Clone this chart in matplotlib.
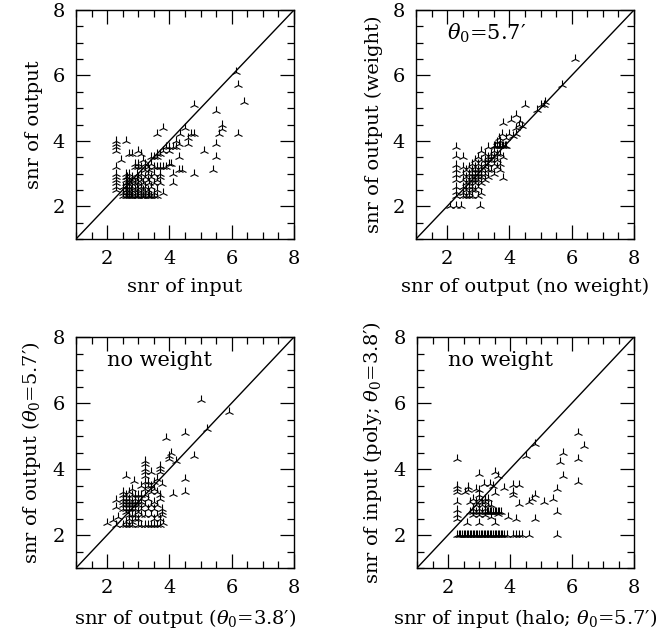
import matplotlib
matplotlib.use("Agg")
import matplotlib.pyplot as plt
from matplotlib.ticker import MultipleLocator

plt.rcParams['font.family'] = ['DejaVu Serif']
plt.rcParams['mathtext.fontset'] = 'dejavuserif'

# panel 1: snr of input vs snr of output
p1_points = [
    (2.3, 2.5), (2.3, 2.6), (2.3, 2.7), (2.3, 2.8), (2.3, 2.9), (2.3, 3.0), (2.3, 3.2),
    (2.3, 3.7), (2.3, 3.8), (2.3, 3.9), (2.3, 4.0), (2.45, 3.4),
    (2.5, 2.3), (2.5, 2.4), (2.5, 2.6),
    (2.6, 2.3), (2.6, 2.4), (2.6, 2.5), (2.6, 2.6), (2.6, 2.7), (2.6, 2.8), (2.6, 2.9), (2.6, 3.0), (2.6, 4.0),
    (2.65, 2.3), (2.65, 2.5), (2.65, 2.7), (2.65, 2.9),
    (2.7, 2.3), (2.7, 2.4), (2.7, 2.6), (2.7, 2.8), (2.7, 3.0), (2.7, 3.6),
    (2.75, 2.3), (2.75, 2.5), (2.75, 2.7),
    (2.8, 2.3), (2.8, 2.4), (2.8, 2.6), (2.8, 2.8), (2.8, 2.9), (2.8, 3.6),
    (2.9, 2.3), (2.9, 2.5), (2.9, 2.7), (2.9, 3.2), (2.9, 3.3),
    (2.95, 2.3), (2.95, 2.4), (2.95, 2.6), (2.95, 2.8), (2.95, 3.0),
    (3.0, 2.3), (3.0, 2.5), (3.0, 2.7), (3.0, 2.9), (3.0, 3.2), (3.0, 3.3), (3.0, 3.7),
    (3.1, 2.3), (3.1, 2.4), (3.1, 2.6), (3.1, 2.8), (3.1, 3.0), (3.1, 3.2), (3.1, 3.6),
    (3.15, 2.3), (3.15, 2.5), (3.15, 2.7), (3.15, 3.4),
    (3.2, 2.3), (3.2, 2.4), (3.2, 2.6), (3.2, 2.9), (3.2, 3.1), (3.2, 3.3),
    (3.3, 2.3), (3.3, 2.5), (3.3, 2.8), (3.3, 3.0), (3.3, 3.2),
    (3.35, 2.3), (3.35, 2.4), (3.35, 2.7), (3.35, 3.1),
    (3.4, 2.3), (3.4, 2.6), (3.4, 2.9), (3.4, 3.3), (3.4, 3.5),
    (3.5, 2.3), (3.5, 2.4), (3.5, 2.7), (3.5, 3.0), (3.5, 3.2), (3.5, 3.5),
    (3.6, 2.3), (3.6, 2.5), (3.6, 2.8), (3.6, 3.2), (3.6, 3.5), (3.6, 3.6), (3.6, 4.2),
    (3.7, 2.7), (3.7, 2.9), (3.7, 3.0), (3.7, 3.2), (3.7, 3.6),
    (3.8, 2.4), (3.8, 3.2), (3.8, 3.7), (3.8, 4.4),
    (3.9, 3.2), (3.9, 3.8), (4.0, 3.3), (4.0, 3.7), (4.0, 3.8),
    (4.1, 2.7), (4.05, 3.3), (4.1, 3.0), (4.1, 3.8), (4.2, 3.8), (4.2, 4.0),
    (4.3, 3.1), (4.3, 3.5), (4.3, 3.9), (4.4, 3.1), (4.35, 4.2), (4.5, 4.4),
    (4.6, 4.1), (4.6, 3.9), (4.7, 4.2), (4.8, 4.2), (4.8, 3.0), (4.8, 5.1),
    (5.1, 3.7), (5.4, 3.1), (5.5, 3.5), (5.5, 3.9), (5.5, 4.9),
    (5.6, 4.2), (5.7, 4.35), (5.7, 4.5), (6.2, 4.2), (6.4, 5.2), (6.2, 5.7), (6.15, 6.1),
]

# panel 2: output (no weight) vs output (weight)
p2_points = [
    (2.1, 2.0), (2.3, 2.0), (2.45, 2.0), (3.05, 2.0),
    (2.3, 2.3), (2.3, 2.45), (2.3, 2.6), (2.3, 2.8), (2.3, 2.95), (2.3, 3.1), (2.3, 3.25),
    (2.3, 3.55), (2.3, 3.8),
    (2.5, 2.3), (2.5, 2.4), (2.5, 2.6), (2.5, 2.8), (2.5, 3.0), (2.5, 3.2), (2.5, 3.5),
    (2.6, 2.3), (2.6, 2.5), (2.6, 2.7), (2.6, 2.9), (2.6, 3.1),
    (2.7, 2.3), (2.7, 2.4), (2.7, 2.6), (2.7, 2.7), (2.7, 2.8), (2.7, 3.0), (2.7, 3.2),
    (2.8, 2.3), (2.8, 2.5), (2.8, 2.6), (2.8, 2.8), (2.8, 2.9), (2.8, 3.0), (2.8, 3.1), (2.8, 3.3),
    (2.9, 2.5), (2.9, 2.7), (2.9, 2.8), (2.9, 3.0), (2.9, 3.1), (2.9, 3.2), (2.9, 3.4),
    (3.0, 2.3), (3.0, 2.6), (3.0, 2.8), (3.0, 2.9), (3.0, 3.0), (3.0, 3.1), (3.0, 3.3), (3.0, 3.5),
    (3.1, 2.4), (3.1, 2.7), (3.1, 2.9), (3.1, 3.0), (3.1, 3.1), (3.1, 3.2), (3.1, 3.4), (3.1, 3.7),
    (3.2, 2.8), (3.2, 3.0), (3.2, 3.2), (3.2, 3.3), (3.2, 3.4), (3.2, 3.6),
    (3.3, 2.9), (3.3, 3.1), (3.3, 3.3), (3.3, 3.4), (3.3, 3.5), (3.3, 3.8),
    (3.4, 3.1), (3.4, 3.4), (3.4, 3.5), (3.4, 3.6),
    (3.5, 3.0), (3.5, 3.3), (3.5, 3.5), (3.5, 3.7), (3.5, 3.85),
    (3.55, 3.85), (3.6, 3.2), (3.6, 3.4), (3.6, 3.6), (3.6, 3.85), (3.6, 3.95),
    (3.65, 3.85), (3.65, 4.1), (3.7, 3.1), (3.7, 3.3), (3.7, 3.6), (3.7, 3.85), (3.7, 4.0),
    (3.75, 3.85), (3.75, 4.2), (3.8, 2.85), (3.8, 3.5), (3.8, 3.85), (3.8, 4.55),
    (3.85, 3.85), (3.9, 3.85), (3.9, 4.1), (4.0, 4.2), (4.05, 4.65), (4.1, 4.15),
    (4.2, 4.2), (4.2, 4.4), (4.2, 4.8), (4.3, 4.5), (4.35, 4.6), (4.4, 4.45),
    (4.5, 5.1), (4.9, 4.95), (5.0, 5.1), (5.1, 5.1), (5.15, 5.2), (5.7, 5.7), (6.1, 6.5),
]

# panel 3: output (theta0=3.8') vs output (theta0=5.7'), no weight
p3_points = [
    (2.0, 2.35), (2.2, 2.45), (2.3, 2.3), (2.3, 2.85), (2.3, 3.05), (2.35, 2.55),
    (2.5, 2.3), (2.5, 2.8), (2.5, 2.9), (2.5, 3.0), (2.5, 3.1), (2.5, 3.2), (2.5, 3.3),
    (2.6, 2.3), (2.6, 2.4), (2.6, 2.7), (2.6, 2.8), (2.6, 2.9), (2.6, 3.0), (2.6, 3.1), (2.6, 3.2), (2.6, 3.8),
    (2.7, 2.3), (2.7, 2.5), (2.7, 2.6), (2.7, 2.8), (2.7, 2.9), (2.7, 3.0), (2.7, 3.1), (2.7, 3.3),
    (2.8, 2.3), (2.8, 2.4), (2.8, 2.6), (2.8, 2.8), (2.8, 2.9), (2.8, 3.0), (2.8, 3.2), (2.8, 3.4),
    (2.85, 3.65),
    (2.9, 2.5), (2.9, 2.6), (2.9, 2.8), (2.9, 2.9), (2.9, 3.0), (2.9, 3.1), (2.9, 3.2),
    (3.0, 2.3), (3.0, 2.5), (3.0, 2.7), (3.0, 2.9), (3.0, 3.0), (3.0, 3.2),
    (3.1, 2.3), (3.1, 2.6), (3.1, 2.8), (3.1, 3.0), (3.1, 3.1), (3.1, 3.2), (3.1, 3.5),
    (3.2, 2.3), (3.2, 2.6), (3.2, 2.9), (3.2, 3.2), (3.2, 3.4), (3.2, 3.6), (3.2, 3.8),
    (3.2, 3.9), (3.2, 4.0), (3.2, 4.15), (3.2, 4.25),
    (3.3, 2.3), (3.3, 2.8), (3.3, 3.1), (3.3, 3.5), (3.3, 3.6),
    (3.4, 2.3), (3.4, 2.6), (3.4, 2.9), (3.4, 3.3), (3.4, 3.5), (3.4, 3.9),
    (3.5, 2.3), (3.5, 2.5), (3.5, 2.8), (3.5, 3.0), (3.5, 3.4), (3.5, 3.6),
    (3.6, 2.3), (3.6, 2.6), (3.6, 2.9), (3.6, 3.3), (3.6, 3.7),
    (3.7, 2.3), (3.7, 2.5), (3.7, 3.1), (3.7, 3.2), (3.7, 3.9), (3.7, 4.0), (3.7, 4.1),
    (3.75, 2.6), (3.75, 2.7), (3.75, 2.8), (3.75, 3.55), (3.8, 2.35),
    (3.9, 4.95), (4.0, 4.3), (4.0, 4.4), (4.05, 4.5), (4.1, 3.25), (4.2, 4.25),
    (4.5, 3.3), (4.5, 3.7), (4.5, 5.1), (4.8, 4.4), (5.0, 6.1), (5.2, 5.2), (5.9, 5.73),
]

# panel 4: input (halo) vs input (poly), no weight
p4_points = [
    (2.3, 2.0), (2.35, 2.0), (2.4, 2.0), (2.45, 2.0), (2.5, 2.0), (2.55, 2.0), (2.6, 2.0),
    (2.65, 2.0), (2.7, 2.0), (2.75, 2.0), (2.8, 2.0), (2.85, 2.0), (2.9, 2.0), (2.95, 2.0),
    (3.0, 2.0), (3.05, 2.0), (3.1, 2.0), (3.15, 2.0), (3.2, 2.0), (3.25, 2.0), (3.3, 2.0),
    (3.35, 2.0), (3.4, 2.0), (3.45, 2.0), (3.5, 2.0), (3.55, 2.0), (3.6, 2.0), (3.65, 2.0),
    (3.7, 2.0), (3.75, 2.0), (3.8, 2.0), (3.9, 2.0),
    (4.1, 2.0), (4.2, 2.0), (4.3, 2.0), (4.4, 2.0), (4.6, 2.0), (5.5, 2.0),
    (2.3, 2.5), (2.3, 2.6), (2.3, 2.75), (2.3, 3.0), (2.3, 3.3), (2.3, 3.4), (2.3, 3.5), (2.3, 4.3),
    (2.55, 3.3), (2.6, 2.35), (2.65, 3.35), (2.65, 3.45), (2.7, 2.7), (2.7, 3.0),
    (2.8, 2.6), (2.8, 2.7), (2.8, 2.8), (2.8, 3.1), (2.9, 2.7), (2.9, 2.9), (2.9, 3.0), (2.9, 3.4),
    (3.0, 2.35), (3.0, 2.6), (3.0, 2.7), (3.0, 2.8), (3.0, 3.1), (3.0, 3.2), (3.0, 3.35), (3.0, 3.85),
    (3.1, 2.7), (3.1, 2.9), (3.1, 3.0), (3.15, 3.55),
    (3.2, 2.6), (3.2, 2.7), (3.2, 2.8), (3.2, 3.0), (3.2, 3.1),
    (3.25, 2.7), (3.3, 2.7), (3.3, 2.9), (3.3, 3.1), (3.35, 2.7), (3.35, 3.55),
    (3.4, 2.55), (3.4, 2.7), (3.4, 2.9), (3.45, 2.7), (3.45, 3.47),
    (3.5, 2.35), (3.5, 2.7), (3.5, 3.27), (3.5, 3.9), (3.55, 2.7), (3.6, 2.65), (3.6, 2.7),
    (3.6, 3.8), (3.65, 2.7), (3.7, 2.7),
    (3.8, 3.42), (3.95, 2.55), (4.1, 3.2), (4.1, 3.3), (4.1, 3.52), (4.2, 2.5),
    (4.3, 2.95), (4.3, 3.52), (4.5, 4.4), (4.6, 3.0), (4.7, 3.1), (4.8, 2.5), (4.8, 3.2),
    (4.8, 4.75), (5.1, 3.0), (5.4, 3.1), (5.5, 2.7), (5.5, 3.4), (5.6, 4.2), (5.7, 3.8),
    (5.7, 4.5), (6.2, 3.6), (6.2, 4.3), (6.2, 5.1), (6.4, 4.7),
]

panel_data = [p1_points, p2_points, p3_points, p4_points]
x_labels = ["snr of input", "snr of output (no weight)",
            r"snr of output ($\theta_0$=3.8′)", r"snr of input (halo; $\theta_0$=5.7′)"]
y_labels = ["snr of output", "snr of output (weight)",
            r"snr of output ($\theta_0$=5.7′)", r"snr of input (poly; $\theta_0$=3.8′)"]
notes = [None, r"$\theta_0$=5.7′", "no weight", "no weight"]

W, H = 670, 637
# axes boxes in pixels: left, top, right, bottom
boxes = [(76, 10, 294, 239), (416, 10, 634, 239),
         (76, 337, 294, 568), (417, 337, 634, 568)]

fig = plt.figure(figsize=(W / 100, H / 100), dpi=100)

for pts, xl, yl, note, (l, t, r, b) in zip(panel_data, x_labels, y_labels, notes, boxes):
    ax = fig.add_axes([l / W, 1 - b / H, (r - l) / W, (b - t) / H])
    xs = [p[0] for p in pts]
    ys = [p[1] for p in pts]
    ax.plot([1, 8], [1, 8], color='black', lw=1.0)
    ax.plot(xs, ys, linestyle='none', marker='2', color='black', ms=6.5, mew=0.8)
    ax.set_xlim(1, 8)
    ax.set_ylim(1, 8)
    ax.xaxis.set_major_locator(MultipleLocator(2))
    ax.yaxis.set_major_locator(MultipleLocator(2))
    ax.xaxis.set_minor_locator(MultipleLocator(0.5))
    ax.yaxis.set_minor_locator(MultipleLocator(0.5))
    ax.tick_params(which='both', direction='in', top=True, right=True, width=0.9)
    ax.tick_params(which='major', length=10, labelsize=14, pad=8)
    ax.tick_params(which='minor', length=5)
    for sp in ax.spines.values():
        sp.set_linewidth(1.0)
    ax.set_xlabel(xl, fontsize=14, labelpad=7)
    ax.set_ylabel(yl, fontsize=14, labelpad=7)
    if note:
        ax.text(2.0, 7.3, note, fontsize=15, va='center', ha='left')

fig.savefig("out.png", dpi=100)
